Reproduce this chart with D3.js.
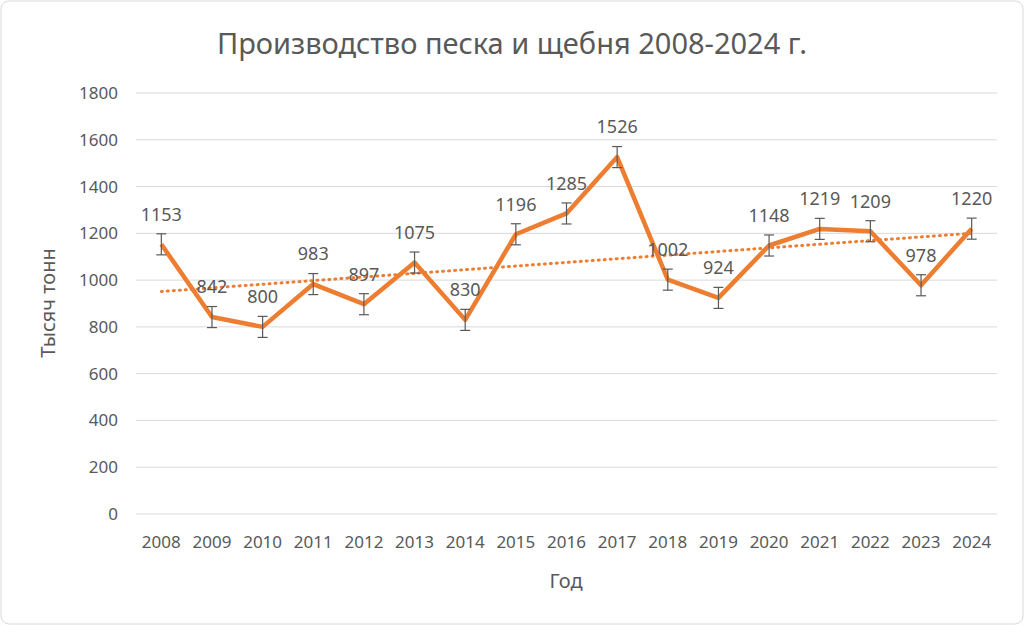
<!DOCTYPE html>
<html><head><meta charset="utf-8">
<script src="https://cdn.jsdelivr.net/npm/d3@7"></script>
<style>body{margin:0;background:#fff}svg{display:block}</style>
</head><body>
<svg id="chart" width="1024" height="625"></svg>
<script>
const years = ["2008","2009","2010","2011","2012","2013","2014","2015","2016","2017","2018","2019","2020","2021","2022","2023","2024"];
const values = [1153,842,800,983,897,1075,830,1196,1285,1526,1002,924,1148,1219,1209,978,1220];
const yTicks = [0,200,400,600,800,1000,1200,1400,1600,1800];
const errorSize = 45;

const svg = d3.select("#chart");
const font = "'Noto Sans', 'Open Sans', sans-serif";
const grey = "#595959";

svg.append("rect").attr("x",1).attr("y",1).attr("width",1022).attr("height",623)
  .attr("rx",8).attr("fill","#fff").attr("stroke","#d9d9d9");

let margin = { left: 136, right: 997, top: 93, bottom: 514 };
let x = d3.scaleBand().domain(years).range([margin.left, margin.right]);
let y = d3.scaleLinear().domain([0,1800]).range([margin.bottom, margin.top]);
let cx = d => x(d) + x.bandwidth()/2;

// сетка
svg.append("g").selectAll("line").data(yTicks).enter().append("line")
  .attr("x1",margin.left).attr("x2",margin.right)
  .attr("y1",d=>y(d)).attr("y2",d=>y(d))
  .attr("stroke","#d9d9d9").attr("stroke-width",1);

svg.append("g").selectAll("text").data(yTicks).enter().append("text")
  .attr("x",margin.left-18).attr("y",d=>y(d)).attr("dy","0.35em")
  .attr("text-anchor","end").attr("font-family",font).attr("font-size",17)
  .attr("fill",grey).text(d=>d);

svg.append("g").selectAll("text").data(years).enter().append("text")
  .attr("x",d=>cx(d)).attr("y",margin.bottom+34)
  .attr("text-anchor","middle").attr("font-family",font).attr("font-size",17)
  .attr("fill",grey).text(d=>d);

// линия тренда
const n = values.length;
const xs = d3.range(n);
const mx = d3.mean(xs), my = d3.mean(values);
const slope = d3.sum(xs,(i)=> (i-mx)*(values[i]-my)) / d3.sum(xs,i=>(i-mx)*(i-mx));
const icpt = my - slope*mx;
svg.append("line")
  .attr("x1",cx(years[0])).attr("x2",cx(years[n-1]))
  .attr("y1",y(icpt)).attr("y2",y(icpt+slope*(n-1)))
  .attr("stroke","#ED7D31").attr("stroke-width",3)
  .attr("stroke-dasharray","1 5").attr("stroke-linecap","round");

// основная линия
svg.append("path").datum(values)
  .attr("fill","none").attr("stroke","#ED7D31").attr("stroke-width",4.5)
  .attr("stroke-linejoin","round")
  .attr("d", d3.line().x((d,i)=>cx(years[i])).y(d=>y(d)));

// планки погрешностей
let eb = svg.append("g").attr("stroke","#595959").attr("stroke-width",1.2);
values.forEach((v,i)=>{
  let px = cx(years[i]);
  eb.append("line").attr("x1",px).attr("x2",px).attr("y1",y(v-errorSize)).attr("y2",y(v+errorSize));
  [v-errorSize,v+errorSize].forEach(e=>eb.append("line").attr("x1",px-5).attr("x2",px+5).attr("y1",y(e)).attr("y2",y(e)));
});

// подписи
svg.append("g").selectAll("text").data(values).enter().append("text")
  .attr("x",(d,i)=>cx(years[i])).attr("y",d=>y(d)-30).attr("dy","0.35em")
  .attr("text-anchor","middle").attr("font-family",font).attr("font-size",18)
  .attr("fill",grey).text(d=>d);

svg.append("text").attr("x",512).attr("y",54).attr("text-anchor","middle")
  .attr("font-family",font).attr("font-size",29).attr("fill",grey)
  .text("Производство песка и щебня 2008-2024 г.");
svg.append("text").attr("x",566).attr("y",588).attr("text-anchor","middle")
  .attr("font-family",font).attr("font-size",20).attr("fill",grey).text("Год");
svg.append("text").attr("transform","translate(55,303) rotate(-90)").attr("text-anchor","middle")
  .attr("font-family",font).attr("font-size",20).attr("fill",grey).text("Тысяч тонн");
</script>
</body></html>
